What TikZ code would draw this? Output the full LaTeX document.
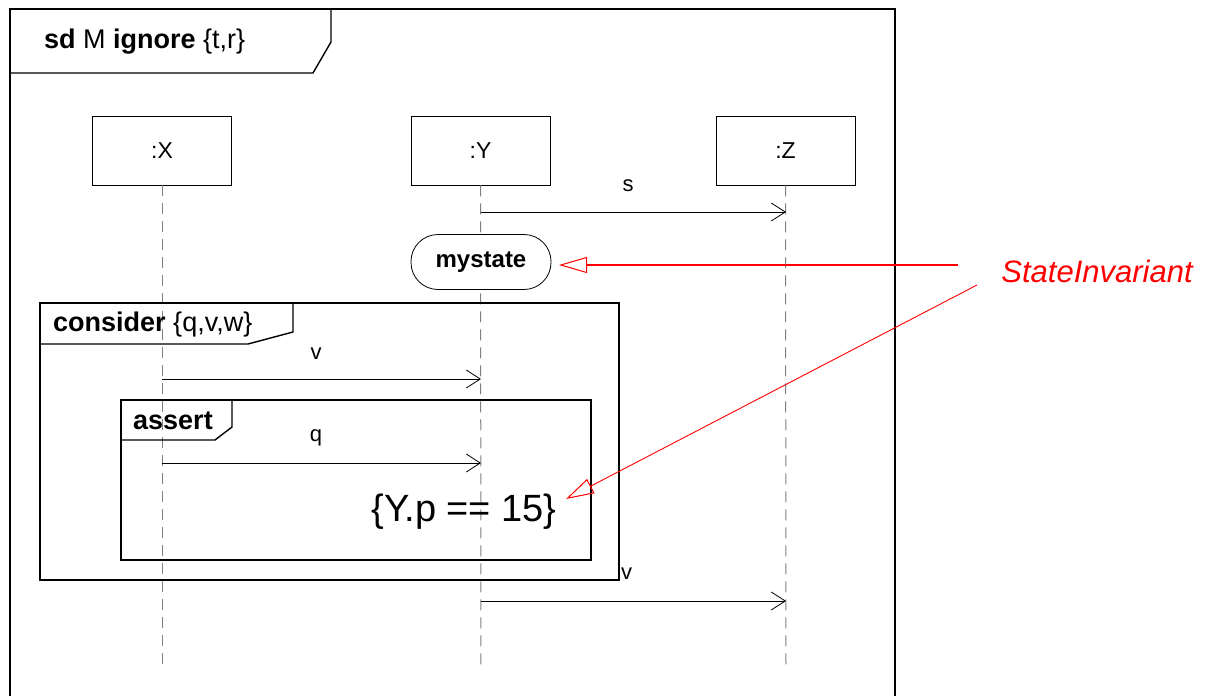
\documentclass[tikz,border=0pt]{standalone}
\usepackage{fontspec}
\setmainfont{Liberation Sans}
\usetikzlibrary{arrows.meta}
\begin{document}
\begin{tikzpicture}[x=1pt,y=-1pt,
  lifebox/.style={draw,line width=0.9pt,minimum width=139pt,minimum height=69pt,inner sep=0pt,font=\fontsize{23}{25}\selectfont},
  lifeline/.style={draw=gray,line width=1pt,dash pattern=on 11pt off 7pt},
  msg/.style={draw,line width=0.8pt,-{Straight Barb[length=14pt,width=18pt,line width=0.8pt]}},
  msglabel/.style={font=\fontsize{22}{24}\selectfont,inner sep=0pt},
  frameline/.style={draw,line width=1.8pt},
  framelbl/.style={anchor=west,inner sep=0pt,font=\fontsize{27}{29}\selectfont},
  note/.style={draw=red,-{Triangle[open,length=28pt,width=16pt,line width=1pt]}},
]
\useasboundingbox (0,0) rectangle (1205,696);
% outer frame
\draw[frameline] (10,700) -- (10,9) -- (895,9) -- (895,700);
\draw[line width=1.4pt] (10,73) -- (313,73) -- (331,42) -- (331,9);
\node[framelbl] (sdlbl) at (44,42) {\textbf{sd} M \textbf{ignore} \{t,r\}};
% lifeline heads
\node[lifebox] (X) at (162,150.5) {:X};
\node[lifebox] (Y) at (480.5,150.5) {:Y};
\node[lifebox] (Z) at (785.5,150.5) {:Z};
\coordinate (Xe) at (162,671);
\coordinate (Ye) at (481,671);
\coordinate (Ze) at (786,671);
\draw[lifeline] (X.south) -- (Xe);
\draw[lifeline] (Y.south) -- (Ye);
\draw[lifeline] (Z.south) -- (Ze);
% message s
\coordinate (s1) at (481,212);
\coordinate (s2) at (786,212);
\draw[msg] (s1) -- (s2);
\node[msglabel] (slbl) at (628,186) {s};
% mystate
\node[draw,fill=white,line width=0.8pt,rounded corners=27pt,minimum width=140pt,minimum height=55pt,inner sep=0pt,font=\fontsize{24}{26}\selectfont\bfseries] (ms) at (481,262) {\raisebox{-2pt}{mystate}};
% consider frame
\draw[frameline] (40,303) rectangle (619,580);
\draw[line width=1.4pt] (40,344) -- (248,344) -- (293,332) -- (293,303);
\node[framelbl] (conlbl) at (53,325) {\textbf{consider} \{q,v,w\}};
% message v
\coordinate (v1) at (162,379);
\coordinate (v2) at (481,379);
\draw[msg] (v1) -- (v2);
\node[msglabel] (vlbl) at (316,354) {v};
% assert frame
\draw[frameline] (121,400) rectangle (591,560);
\draw[line width=1.4pt] (121,440) -- (215,440) -- (232,427) -- (232,400);
\node[framelbl,font=\fontsize{27}{29}\selectfont\bfseries] (aslbl) at (133,421) {assert};
% message q
\coordinate (q1) at (162,463);
\coordinate (q2) at (481,463);
\draw[msg] (q1) -- (q2);
\node[msglabel] (qlbl) at (316,438) {q};
% constraint
\node[inner sep=0pt,font=\fontsize{38}{40}\selectfont] (cons) at (464,512) {\{Y.p == 15\}};
% final v
\coordinate (w1) at (481,601);
\coordinate (w2) at (786,601);
\draw[msg] (w1) -- (w2);
\node[msglabel,anchor=west] (v2lbl) at (621,574) {v};
% annotation
\node[text=red,inner sep=0pt,font=\fontsize{31}{33}\selectfont\itshape] (si) at (1097,271) {StateInvariant};
\coordinate (r1) at (958,265);
\coordinate (r1e) at (559,265);
\coordinate (r2) at (977,285);
\coordinate (r2e) at (566,499);
\draw[note,line width=1.6pt] (r1) -- (r1e);
\draw[note,line width=0.9pt] (r2) -- (r2e);
\end{tikzpicture}
\end{document}
